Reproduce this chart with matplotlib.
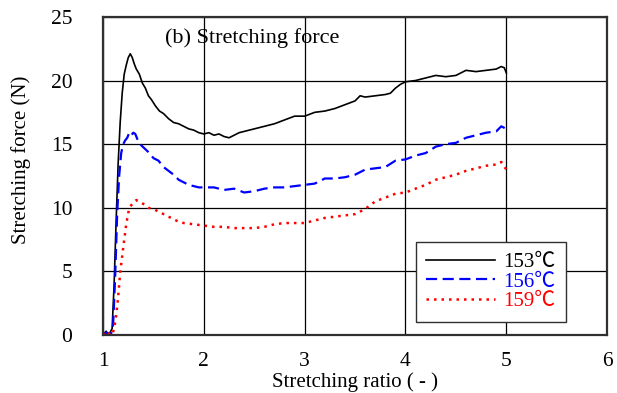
import matplotlib
matplotlib.use("Agg")
import matplotlib.pyplot as plt

plt.rcParams['font.family'] = ['Liberation Serif', 'Noto Sans CJK JP', 'DejaVu Serif']

# stretching ratio / force data
x_153 = [1.00, 1.03, 1.05, 1.07, 1.09, 1.11, 1.13, 1.15, 1.17, 1.19, 1.21, 1.23, 1.25, 1.27,
         1.29, 1.31, 1.33, 1.36, 1.39, 1.42, 1.45, 1.48, 1.52, 1.56, 1.60, 1.65, 1.70, 1.75,
         1.80, 1.85, 1.90, 1.95, 2.00, 2.05, 2.10, 2.15, 2.20, 2.25, 2.30, 2.35, 2.40, 2.50,
         2.60, 2.70, 2.80, 2.90, 3.00, 3.10, 3.20, 3.30, 3.40, 3.50, 3.55, 3.60, 3.70, 3.80,
         3.85, 3.90, 3.95, 4.00, 4.10, 4.20, 4.30, 4.40, 4.50, 4.60, 4.70, 4.80, 4.90, 4.95,
         4.98, 5.00]
y_153 = [0.0, 0.3, 0.1, 0.2, 0.5, 4.0, 9.0, 13.5, 16.7, 19.0, 20.5, 21.2, 21.8, 22.1,
         21.8, 21.3, 20.9, 20.5, 19.8, 19.4, 18.8, 18.5, 18.0, 17.6, 17.4, 17.0, 16.7, 16.6,
         16.4, 16.2, 16.1, 15.9, 15.8, 15.9, 15.7, 15.8, 15.6, 15.5, 15.7, 15.9, 16.0, 16.2,
         16.4, 16.6, 16.9, 17.2, 17.2, 17.5, 17.6, 17.8, 18.1, 18.4, 18.8, 18.7, 18.8, 18.9,
         19.0, 19.4, 19.7, 19.9, 20.0, 20.2, 20.4, 20.3, 20.4, 20.8, 20.7, 20.8, 20.9, 21.1,
         21.0, 20.6]

x_156 = [1.00, 1.03, 1.05, 1.08, 1.10, 1.12, 1.14, 1.16, 1.18, 1.20, 1.22, 1.24, 1.26, 1.28,
         1.30, 1.32, 1.35, 1.38, 1.42, 1.46, 1.50, 1.55, 1.60, 1.65, 1.70, 1.75, 1.80, 1.85,
         1.90, 1.95, 2.00, 2.10, 2.20, 2.30, 2.40, 2.50, 2.60, 2.70, 2.80, 2.90, 3.00, 3.10,
         3.20, 3.30, 3.40, 3.50, 3.60, 3.70, 3.80, 3.90, 4.00, 4.10, 4.20, 4.30, 4.40, 4.50,
         4.60, 4.70, 4.80, 4.90, 4.95, 5.00]
y_156 = [0.0, 0.2, 0.1, 0.1, 0.8, 4.5, 9.5, 12.5, 14.3, 15.0, 15.3, 15.5, 15.9, 15.7,
         15.9, 15.8, 15.2, 14.9, 14.6, 14.3, 13.9, 13.7, 13.2, 12.9, 12.6, 12.2, 12.0, 11.8,
         11.7, 11.6, 11.6, 11.6, 11.4, 11.5, 11.2, 11.3, 11.5, 11.6, 11.6, 11.7, 11.8, 11.9,
         12.3, 12.3, 12.4, 12.6, 13.0, 13.1, 13.2, 13.7, 13.8, 14.1, 14.3, 14.8, 15.0, 15.1,
         15.5, 15.7, 15.9, 16.0, 16.4, 16.2]

x_159 = [1.00, 1.03, 1.06, 1.09, 1.11, 1.13, 1.15, 1.17, 1.19, 1.21, 1.23, 1.25, 1.27, 1.30,
         1.33, 1.36, 1.40, 1.45, 1.50, 1.55, 1.60, 1.65, 1.70, 1.75, 1.80, 1.90, 2.00, 2.10,
         2.20, 2.30, 2.40, 2.50, 2.60, 2.70, 2.80, 2.90, 3.00, 3.10, 3.20, 3.30, 3.40, 3.50,
         3.60, 3.70, 3.80, 3.90, 4.00, 4.10, 4.20, 4.30, 4.40, 4.50, 4.60, 4.70, 4.80, 4.90,
         4.95, 5.00]
y_159 = [0.0, 0.3, 0.1, 0.0, 0.5, 1.5, 3.0, 4.9, 6.2, 7.5, 8.7, 9.6, 10.1, 10.4,
         10.6, 10.5, 10.3, 10.0, 9.9, 9.7, 9.5, 9.3, 9.1, 8.9, 8.8, 8.7, 8.6, 8.5,
         8.5, 8.4, 8.4, 8.4, 8.5, 8.7, 8.8, 8.8, 8.8, 9.0, 9.2, 9.3, 9.4, 9.5,
         9.9, 10.5, 10.8, 11.1, 11.2, 11.5, 11.8, 12.2, 12.4, 12.6, 12.9, 13.1, 13.3, 13.4,
         13.6, 13.0]

labels = ['153\u2103', '156\u2103', '159\u2103']
colors = ['black', 'blue', 'red']
x_ticks = [1, 2, 3, 4, 5, 6]
y_ticks = [0, 5, 10, 15, 20, 25]

fig = plt.figure(figsize=(6.17, 3.93), dpi=100)
ax = fig.add_axes([0.167, 0.1476, 0.817, 0.8094])

l1, = ax.plot(x_153, y_153, color=colors[0], lw=1.2, linestyle='-')
l2, = ax.plot(x_156, y_156, color=colors[1], lw=1.6, linestyle=(0, (5, 2.5)))
l3, = ax.plot(x_159, y_159, color=colors[2], lw=1.8, linestyle=(0, (1, 2)))

ax.set_xlim(1, 6)
ax.set_ylim(0, 25)
ax.set_xticks(x_ticks)
ax.set_yticks(y_ticks)
ax.grid(True, color='black', lw=0.9)
ax.set_axisbelow(True)
ax.tick_params(length=0, labelsize=15.5)
ax.tick_params(axis='x', pad=12)
ax.tick_params(axis='y', pad=22)
for s in ax.spines.values():
    s.set_color('#303030')
    s.set_linewidth(1.6)

ax.set_xlabel('Stretching ratio ( - )', fontsize=15)
ax.xaxis.set_label_coords(0.5, -0.118)
ax.set_ylabel('Stretching force (N)', fontsize=15)
ax.yaxis.set_label_coords(-0.142, 0.55)

ax.text(0.123, 0.934, '(b) Stretching force', transform=ax.transAxes,
        fontsize=16, ha='left', va='center')

leg = ax.legend([l1, l2, l3], labels, loc='upper left', bbox_to_anchor=(0.621, 0.292),
                borderaxespad=0, fontsize=15, handlelength=3.3, handletextpad=0.4,
                fancybox=False, framealpha=1, edgecolor='#303030',
                borderpad=0.5, labelspacing=0.0)
leg.get_frame().set_linewidth(1.0)
for t, c in zip(leg.get_texts(), colors):
    t.set_color(c)

fig.savefig('out.png', dpi=100)
